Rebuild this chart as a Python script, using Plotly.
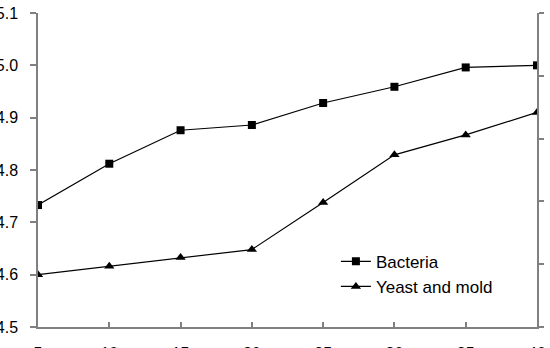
import plotly.graph_objects as go

days = [5, 10, 15, 20, 25, 30, 35, 40]
bacteria = [4.733, 4.812, 4.876, 4.886, 4.928, 4.959, 4.996, 5.000]
yeast_mold = [4.600, 4.616, 4.633, 4.648, 4.738, 4.829, 4.867, 4.910]
y_ticks = [4.5, 4.6, 4.7, 4.8, 4.9, 5.0, 5.1]
y_ticktext = ["4.5", "4.6", "4.7", "4.8", "4.9", "5.0", "5.1"]

axis_col = "#808080"
font = dict(family="Liberation Sans, Arial, sans-serif", size=16, color="#000000")

fig = go.Figure()
fig.add_trace(go.Scatter(
    x=days, y=bacteria, name="Bacteria", mode="lines+markers",
    line=dict(color="black", width=1.2),
    marker=dict(symbol="square", size=8, color="black"),
))
fig.add_trace(go.Scatter(
    x=days, y=yeast_mold, name="Yeast and mold", mode="lines+markers",
    line=dict(color="black", width=1.2),
    marker=dict(symbol="triangle-up", size=9, color="black"),
))
fig.add_trace(go.Scatter(x=[days[0]], y=[0], yaxis="y2", mode="markers",
                         marker=dict(opacity=0), showlegend=False, hoverinfo="skip"))

fig.update_layout(
    width=550, height=348,
    margin=dict(l=38, r=13, t=13, b=21, autoexpand=False),
    paper_bgcolor="white", plot_bgcolor="white",
    font=font,
    showlegend=True,
    legend=dict(x=0.597, y=0.265, xanchor="left", yanchor="top",
                bgcolor="rgba(0,0,0,0)", font=dict(size=17), tracegroupgap=0),
    xaxis=dict(range=[5, 40], tickvals=days, ticktext=[str(d) for d in days],
               showline=True, linecolor=axis_col, linewidth=1.5,
               ticks="inside", ticklen=5, tickcolor=axis_col, tickwidth=1.5,
               showgrid=False, zeroline=False, ticklabelstandoff=11,
               automargin=False),
    yaxis=dict(range=[4.5, 5.1], tickvals=y_ticks, ticktext=y_ticktext,
               showline=True, linecolor=axis_col, linewidth=1.5,
               ticks="outside", ticklen=6, tickcolor=axis_col, tickwidth=1.5,
               showgrid=False, zeroline=False, ticklabelstandoff=9,
               automargin=False),
    yaxis2=dict(range=[0, 5], dtick=1, overlaying="y", side="right",
                showline=True, linecolor=axis_col, linewidth=1.5,
                ticks="outside", ticklen=5, tickcolor=axis_col, tickwidth=1.5,
                showticklabels=False, showgrid=False, zeroline=False,
                automargin=False),
)

fig.write_html("out.html")
